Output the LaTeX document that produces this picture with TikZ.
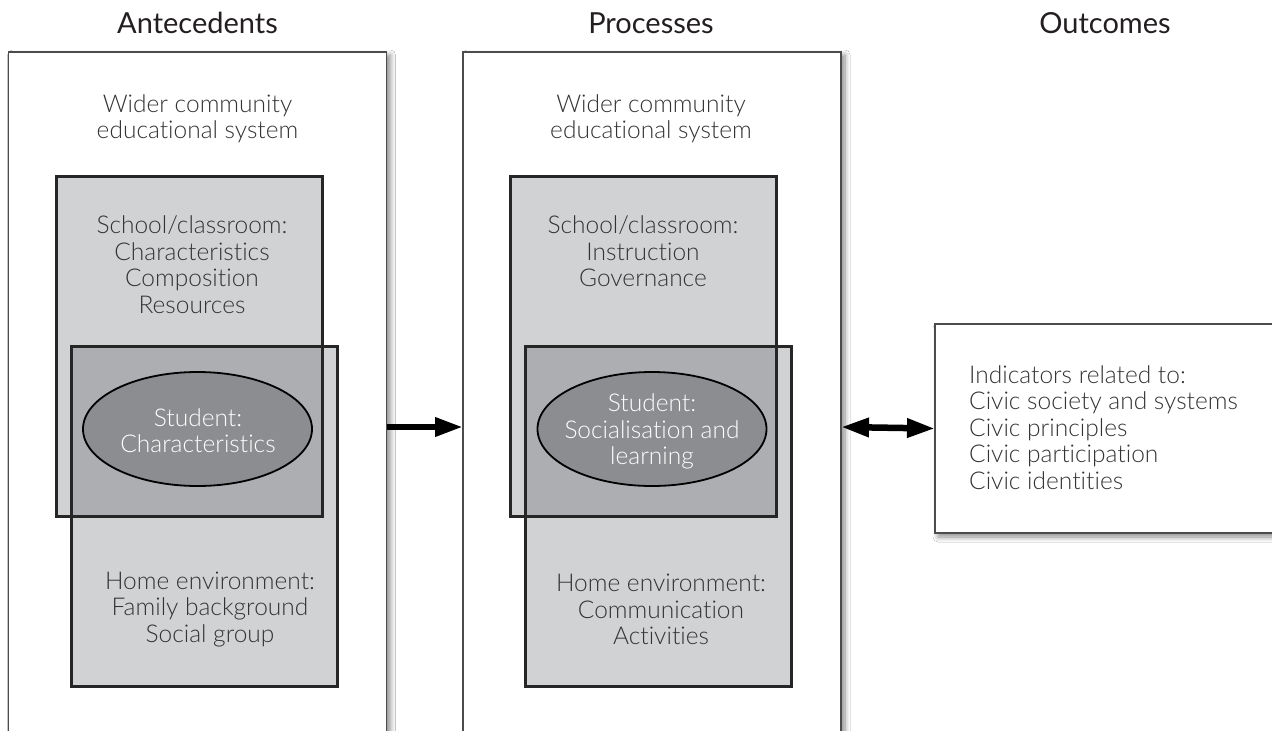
\documentclass[tikz,border=0pt]{standalone}
\usepackage{fontspec}
\setmainfont{Lato}[Ligatures={NoCommon}]
\newfontfamily\lightfont{Lato Light}[Ligatures={NoCommon}]
\usetikzlibrary{arrows.meta,shapes.geometric,shadows.blur}
\definecolor{boxgray}{HTML}{D1D2D4}
\definecolor{overgray}{HTML}{ADAEB1}
\definecolor{ellin}{HTML}{8C8D90}
\definecolor{ellout}{HTML}{6E6F72}
\definecolor{txt}{HTML}{333333}
\definecolor{ttl}{HTML}{231F20}
\pgfdeclareradialshading{ellshade}{\pgfpoint{0bp}{0bp}}{color(0bp)=(ellin); color(38bp)=(ellin); color(50bp)=(ellout)}
\tikzset{
  panel/.style={draw=black!70, line width=1.3pt, fill=white, minimum width=378pt, minimum height=750pt,
    inner sep=0pt, outer sep=0pt,
    blur shadow={shadow xshift=4pt, shadow yshift=-3pt, shadow blur steps=8, shadow blur radius=5pt, shadow opacity=45}},
  outbox/.style={draw=black!70, line width=1.3pt, fill=white, minimum width=350pt, minimum height=209pt,
    inner sep=0pt, outer sep=0pt,
    blur shadow={shadow xshift=3pt, shadow yshift=-4pt, shadow blur steps=8, shadow blur radius=5pt, shadow opacity=45}},
  inbox/.style={fill=boxgray, minimum width=266pt, minimum height=340pt, inner sep=0pt, outer sep=0pt},
  inline/.style={draw=black!85, line width=3pt},
  stud/.style={ellipse, shading=ellshade, draw=black, line width=1.8pt, minimum width=229pt,
    minimum height=114pt, inner sep=0pt},
  paneltitle/.style={anchor=base, text=ttl, font=\fontsize{29}{32}\selectfont, inner sep=0pt},
  bodytext/.style={text=txt, align=center, inner sep=0pt, font=\lightfont\fontsize{24.5}{26.5}\selectfont},
  studtext/.style={text=white, align=center, inner sep=0pt, font=\lightfont\fontsize{24.5}{26.5}\selectfont},
  bigarrow/.style={line width=6.5pt, -{Triangle[length=28pt,width=18pt]}},
  dblarrow/.style={line width=6.5pt, {Triangle[length=28pt,width=18pt]}-{Triangle[length=28pt,width=18pt]}}
}
\begin{document}
\begin{tikzpicture}[x=1pt,y=-1pt]
\useasboundingbox (0,0) rectangle (1272,731);
\clip (0,0) rectangle (1272,731);
\fill[white] (0,0) rectangle (1272,731);

\node[paneltitle] (t1) at (197.5,33) {Antecedents};
\node[paneltitle] (t2) at (651,33) {Processes};
\node[paneltitle] (t3) at (1105,33) {Outcomes};

\node[panel] (ante) at (197.5,427) {};
\node[panel] (proc) at (652,427) {};
\node[outbox] (outc) at (1110,428.5) {};

% Antecedents
\node[inbox] (sch1) at (189,346) {};
\node[inbox] (home1) at (204,516) {};
\fill[overgray] (home1.north west) rectangle (sch1.south east);
\draw[inline] (sch1.north west) rectangle (sch1.south east);
\draw[inline] (home1.north west) rectangle (home1.south east);
\node[stud] (ell1) at (197.5,429) {};
\node[bodytext] (w1) at (197.5,118.5) {Wider community\\educational system};
\node[bodytext] (s1) at (192,264.5) {School/classroom:\\Characteristics\\Composition\\Resources};
\node[studtext] (st1) at (198,430.5) {Student:\\Characteristics};
\node[bodytext] (h1) at (210,609.5) {Home environment:\\Family background\\Social group};

% Processes
\node[inbox] (sch2) at (643,346) {};
\node[inbox] (home2) at (658,516) {};
\fill[overgray] (home2.north west) rectangle (sch2.south east);
\draw[inline] (sch2.north west) rectangle (sch2.south east);
\draw[inline] (home2.north west) rectangle (home2.south east);
\node[stud] (ell2) at (652,429) {};
\node[bodytext] (w2) at (651,118.5) {Wider community\\educational system};
\node[bodytext] (s2) at (643,251.5) {School/classroom:\\Instruction\\Governance};
\node[studtext] (st2) at (652,431.5) {Student:\\Socialisation and\\learning};
\node[bodytext] (h2) at (661,609.5) {Home environment:\\Communication\\Activities};

% Outcomes
\node[bodytext, align=left, anchor=west] (o1) at (969,427.5) {Indicators related to:\\Civic society and systems\\Civic principles\\Civic participation\\Civic identities};

\draw[bigarrow] (ante.east) -- (proc.west);
\draw[dblarrow] (proc.east) -- (outc.west);
\end{tikzpicture}
\end{document}
